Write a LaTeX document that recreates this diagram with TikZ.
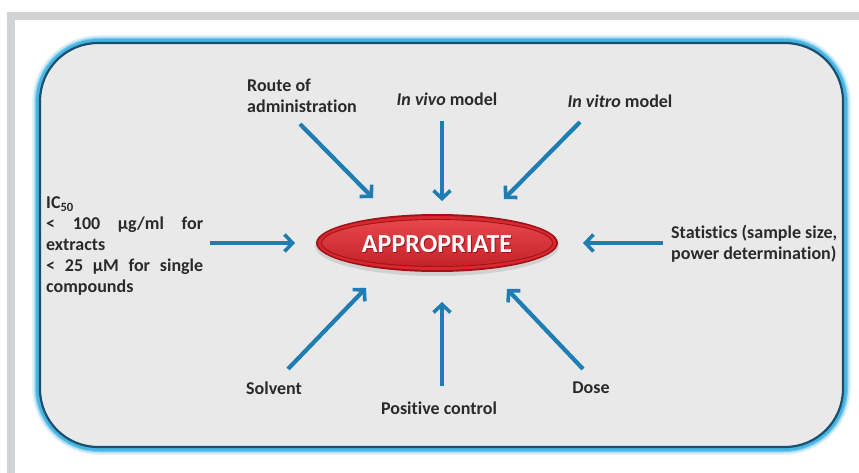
\documentclass[tikz,border=0pt]{standalone}
\usepackage{fontspec}
\setmainfont{Carlito}[Ligatures={TeX,NoCommon}]
\usetikzlibrary{arrows.meta,shapes.geometric}

\definecolor{framegray}{HTML}{D2D3D5}
\definecolor{panel}{HTML}{E9E9EA}
\definecolor{rimnavy}{HTML}{1B4F6E}
\definecolor{rimglow}{HTML}{3DB2E2}
\definecolor{arrowblue}{HTML}{1E7DB2}
\definecolor{ovalred}{HTML}{D9272D}
\definecolor{ovallight}{HTML}{E8474C}
\definecolor{ovaldark}{HTML}{9E141A}
\definecolor{labelgray}{HTML}{2A2A2A}

\begin{document}
\begin{tikzpicture}[x=1pt,y=-1pt,
  lbl/.style={font=\bfseries\fontsize{18}{21}\selectfont, text=labelgray, inner sep=0pt},
  feed/.style={draw=arrowblue, line width=4.2pt,
    -{Straight Barb[length=8pt,width=17pt,line width=3.6pt]}},
  oval/.style={ellipse, inner sep=0pt},
]
\useasboundingbox (0,0) rectangle (859,473);
\fill[white] (0,0) rectangle (859,473);

% outer page frame
\fill[framegray] (7,12) rectangle (859,473);
\fill[white] (15,20) rectangle (859,473);

% glowing rounded panel
\foreach \w/\o in {14/0.12, 11/0.25, 8/0.5, 6/0.85}
  \draw[rimglow, line width=\w pt, opacity=\o, rounded corners=60pt] (39,42) rectangle (844,448);
\draw[fill=panel, draw=rimnavy, line width=2.2pt, rounded corners=58pt] (40,43) rectangle (843,447);

% central oval
\fill[black, opacity=0.10] (437,246) ellipse [x radius=122pt, y radius=30pt];
\node[oval, minimum width=242pt, minimum height=58pt, fill=ovaldark] (ovalrim) at (437,243) {};
\node[oval, minimum width=238pt, minimum height=54pt, fill=ovalred] (ovalring) at (437,243) {};
\node[oval, minimum width=231pt, minimum height=47pt, draw=ovaldark, line width=0.9pt,
  top color=ovallight, bottom color=ovalred!90!black] (ovalcore) at (437,243) {};
\node[font=\bfseries\fontsize{26}{26}\selectfont, text=ovaldark] (appshadow) at (438,245) {APPROPRIATE};
\node[font=\bfseries\fontsize{26}{26}\selectfont, text=white] (app) at (437,244) {APPROPRIATE};

% labels
\node[lbl, anchor=west, align=left] (route) at (247,96) {Route of\\administration};
\node[lbl] (invivo) at (447,99) {\textit{In vivo} model};
\node[lbl] (invitro) at (620,101) {\textit{In vitro} model};
\node[lbl, anchor=west, align=left] (ic) at (46,246) {IC\textsubscript{50}\\
  \hbox to 157pt{<\hfill 100\hfill µg/ml\hfill for}\\
  extracts\\
  \hbox to 157pt{<\hfill 25\hfill µM\hfill for\hfill single}\\
  compounds};
\node[lbl, anchor=west, align=left] (stats) at (671,244) {Statistics (sample size,\\power determination)};
\node[lbl] (solvent) at (274,388) {Solvent};
\node[lbl] (posctrl) at (439,408) {Positive control};
\node[lbl] (dose) at (591,388) {Dose};

% arrow end points
\coordinate (routeT) at (300,124);  \coordinate (routeH) at (373,198);
\coordinate (vivoT) at (442,121);   \coordinate (vivoH) at (442,201);
\coordinate (vitroT) at (580,122);  \coordinate (vitroH) at (504,199);
\coordinate (icT) at (210,243);     \coordinate (icH) at (295,243);
\coordinate (statsT) at (663,243);  \coordinate (statsH) at (583,243);
\coordinate (solvT) at (288,369);   \coordinate (solvH) at (366,288);
\coordinate (posT) at (442,386);    \coordinate (posH) at (442,302);
\coordinate (doseT) at (583,369);   \coordinate (doseH) at (507,289);

\foreach \a in {route,vivo,vitro,ic,stats,solv,pos,dose}
  \draw[feed] (\a T) -- (\a H);
\end{tikzpicture}
\end{document}
